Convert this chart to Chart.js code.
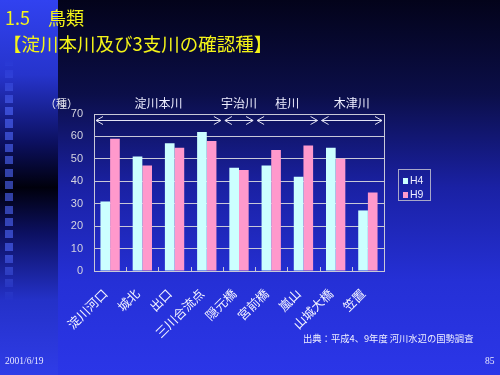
<!DOCTYPE html>
<html>
<head>
<meta charset="utf-8">
<script src="https://cdn.jsdelivr.net/npm/chart.js@4/dist/chart.umd.min.js"></script>
<style>
  html, body { margin: 0; padding: 0; }
  body { width: 500px; height: 375px; overflow: hidden; position: relative;
         background: linear-gradient(to bottom, #03031a 0%, #0b0e48 25%, #1a21a4 50%, #2530d6 75%, #2b36e8 100%);
         font-family: "Noto Sans CJK JP", sans-serif; }
  #strip { position: absolute; left: 0; top: 0; width: 58px; height: 375px;
           background: linear-gradient(to bottom, #3142f0 0%, #2634cc 20%, #0c1060 38%, #00000c 50%, #0c1060 62%, #2431c8 80%, #2f3ce8 100%); }
  #squares { position: absolute; left: 5px; top: 58px; width: 8px; height: 245px;
             background: repeating-linear-gradient(to bottom, rgba(80,105,255,0.6) 0 8px, transparent 8px 12.3px);
             -webkit-mask-image: linear-gradient(to bottom, transparent 0%, #000 20%, #000 80%, transparent 100%);
             mask-image: linear-gradient(to bottom, transparent 0%, #000 20%, #000 80%, transparent 100%); }
  canvas { position: absolute; left: 0; top: 0; }
  .t { position: absolute; white-space: nowrap; }
  #title1 { left: 5px; top: 6px; color: #f4f418; font-size: 18px; line-height: 22px; }
  #title2 { left: 3px; top: 31px; color: #f4f418; font-size: 18.5px; line-height: 24px; }
  #unit { left: 45px; top: 95px; color: #e8e8f0; font-size: 11px; }
  .grp { position: absolute; top: 96px; color: #eeeeff; font-size: 12px; line-height: 14px; transform: translateX(-50%); white-space: nowrap; }
  #legend { position: absolute; left: 398px; top: 169px; width: 31px; height: 30px; border: 1px solid #a8a8c8; }
  .li { position: absolute; left: 4px; color: #eeeeff; font-family: "Liberation Sans", sans-serif; font-size: 10.5px; line-height: 10px; }
  .sw { display: inline-block; width: 5px; height: 6px; margin-right: 2px; vertical-align: 0; }
  #src { left: 303px; top: 331px; color: #f0f0ff; font-size: 9.3px; }
  #date { left: 5px; top: 356px; color: #e8e8ff; font-family: "Liberation Serif", serif; font-size: 9.5px; }
  #page { left: 485px; top: 356px; color: #e8e8ff; font-family: "Liberation Serif", serif; font-size: 9.5px; }
</style>
</head>
<body>
<div id="strip"></div>
<div id="squares"></div>
<canvas id="c" width="500" height="375"></canvas>
<div class="t" id="title1">1.5　鳥類</div>
<div class="t" id="title2">【淀川本川及び3支川の確認種】</div>
<div class="t" id="unit">（種）</div>
<div id="groups"></div>
<div id="legend"></div>
<div class="t" id="src">出典：平成4、9年度 河川水辺の国勢調査</div>
<div class="t" id="date">2001/6/19</div>
<div class="t" id="page">85</div>
<script>
// データ
const categories = ["淀川河口", "城北", "出口", "三川合流点", "隠元橋", "宮前橋", "嵐山", "山城大橋", "笠置"];
const seriesNames = ["H4", "H9"];
const h4 = [31, 51, 57, 62, 46, 47, 42, 55, 27];
const h9 = [59, 47, 55, 58, 45, 54, 56, 50, 35];
const yMin = 0, yMax = 70, yStep = 10;

// 河川のまとまり（カテゴリの先頭・末尾 index）
const groupNames = ["淀川本川", "宇治川", "桂川", "木津川"];
const groupFrom = [0, 4, 5, 7];
const groupTo = [3, 4, 6, 8];

const colors = ["#ccffff", "#ff99cc"];
const lineColor = "#c8c8d8";

// 描画領域の枠 + 内向きの目盛り
const frame = {
  id: "frame",
  afterDatasetsDraw(chart){
    const a = chart.chartArea, ctx = chart.ctx, x = chart.scales.x;
    const half = (x.getPixelForValue(1) - x.getPixelForValue(0)) / 2;
    ctx.save();
    ctx.strokeStyle = lineColor;
    ctx.lineWidth = 1;
    ctx.strokeRect(Math.round(a.left) + 0.5, Math.round(a.top) + 0.5,
                   Math.round(a.right - a.left), Math.round(a.bottom - a.top));
    ctx.beginPath();
    for (let i = 1; i < categories.length; i++){
      const px = Math.round(x.getPixelForValue(i) - half) + 0.5;
      ctx.moveTo(px, a.bottom); ctx.lineTo(px, a.bottom - 4);
    }
    ctx.stroke();
    ctx.restore();
  }
};

// 両矢印 <----->
const arrows = {
  id: "arrows",
  afterDatasetsDraw(chart){
    const x = chart.scales.x, a = chart.chartArea, ctx = chart.ctx;
    const half = (x.getPixelForValue(1) - x.getPixelForValue(0)) / 2;
    const y = Math.round(a.top + 6) + 0.5;
    ctx.save();
    ctx.strokeStyle = "#e4e4f4";
    ctx.lineWidth = 1;
    for (let i = 0; i < groupNames.length; i++){
      const x0 = x.getPixelForValue(groupFrom[i]) - half + 2;
      const x1 = x.getPixelForValue(groupTo[i]) + half - 2;
      ctx.beginPath();
      ctx.moveTo(x0 + 7, y - 4); ctx.lineTo(x0, y); ctx.lineTo(x0 + 7, y + 4);
      ctx.moveTo(x0, y); ctx.lineTo(x1, y);
      ctx.moveTo(x1 - 7, y - 4); ctx.lineTo(x1, y); ctx.lineTo(x1 - 7, y + 4);
      ctx.stroke();
    }
    ctx.restore();
  }
};

const chart = new Chart(document.getElementById("c"), {
  type: "bar",
  data: {
    labels: categories,
    datasets: [
      { label: seriesNames[0], data: h4, backgroundColor: colors[0] },
      { label: seriesNames[1], data: h9, backgroundColor: colors[1] }
    ]
  },
  options: {
    responsive: false,
    devicePixelRatio: 1,
    animation: false,
    layout: { padding: { left: 64, right: 116, top: 114, bottom: 0 } },
    datasets: { bar: { categoryPercentage: 0.6, barPercentage: 1.0 } },
    plugins: { legend: { display: false }, tooltip: { enabled: false } },
    scales: {
      x: {
        afterFit(s){ s.height = 104; },
        grid: { offset: true, display: false },
        border: { color: lineColor },
        ticks: { color: "#f4f4ff", font: { family: "Noto Sans CJK JP", size: 12.5 },
                 minRotation: 45, maxRotation: 45, padding: 7, labelOffset: -5, autoSkip: false }
      },
      y: {
        min: yMin, max: yMax,
        afterFit(s){ s.width = 30; },
        grid: { color: lineColor, drawTicks: false },
        border: { color: lineColor },
        ticks: { stepSize: yStep, color: "#d4d4e0", padding: 11,
                 font: { family: "Liberation Sans", size: 11 } }
      }
    }
  },
  plugins: [frame, arrows]
});

// 河川名ラベル
const xs = chart.scales.x;
const gbox = document.getElementById("groups");
groupNames.forEach((name, i) => {
  const d = document.createElement("div");
  d.className = "grp";
  d.textContent = name;
  d.style.left = ((xs.getPixelForValue(groupFrom[i]) + xs.getPixelForValue(groupTo[i])) / 2) + "px";
  gbox.appendChild(d);
});

// 凡例
const lg = document.getElementById("legend");
seriesNames.forEach((name, i) => {
  const d = document.createElement("div");
  d.className = "li";
  d.style.top = (5 + i * 14) + "px";
  d.innerHTML = `<span class="sw" style="background:${colors[i]}"></span>${name}`;
  lg.appendChild(d);
});
</script>
</body>
</html>
